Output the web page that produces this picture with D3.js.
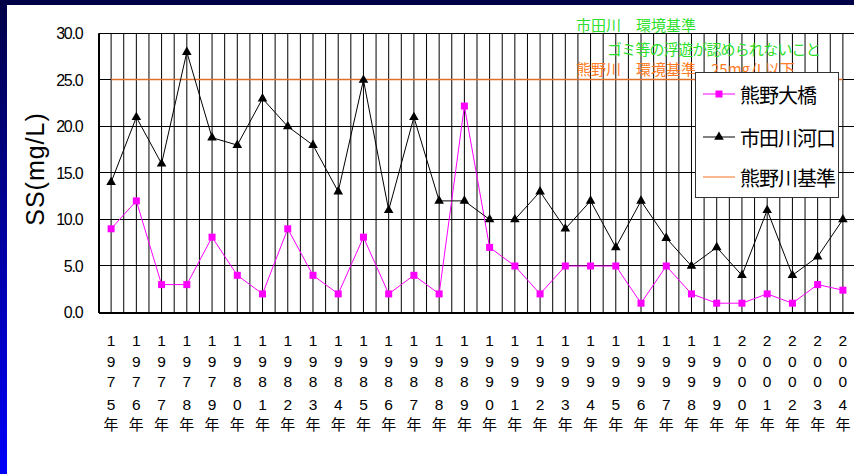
<!DOCTYPE html>
<html>
<head>
<meta charset="utf-8">
<script src="https://cdn.jsdelivr.net/npm/d3@7"></script>
<style>
  html, body { margin: 0; padding: 0; background: #fff; }
  svg { display: block; }
</style>
</head>
<body>
<svg id="chart" width="854" height="474"></svg>
<script>
// Survey years (categories)
const years = ["1975","1976","1977","1978","1979","1980","1981","1982","1983","1984",
               "1985","1986","1987","1988","1989","1990","1991","1992","1993","1994",
               "1995","1996","1997","1998","1999","2000","2001","2002","2003","2004"];

// SS (mg/L) at 熊野大橋
const kumanoOhashi = [9, 12, 3, 3, 8.1, 4, 2, 9, 4, 2,
                      8.1, 2, 4, 2, 22.2, 7, 5, 2, 5, 5,
                      5, 1, 5, 2, 1, 1, 2, 1, 3, 2.4];

// SS (mg/L) at 市田川河口
const ichidaKakou = [14, 21, 16, 28, 18.8, 18, 23, 20, 18, 13,
                     25, 11, 21, 12, 12, 10, 10, 13, 9, 12,
                     7, 12, 8, 5, 7, 4, 11, 4, 6, 10];

// 熊野川 environmental standard (mg/L)
const kumanoStandard = [25, 25, 25, 25, 25, 25, 25, 25, 25, 25,
                        25, 25, 25, 25, 25, 25, 25, 25, 25, 25,
                        25, 25, 25, 25, 25, 25, 25, 25, 25, 25];

// 市田川河口 is drawn as two separate runs
const ichidaSegments = [["1975", "1990"], ["1991", "2004"]];

const yTicks = [0, 5, 10, 15, 20, 25, 30];
const seriesNames = ["熊野大橋", "市田川河口", "熊野川基準"];
const notes = ["市田川　環境基準", "ゴミ等の浮遊が認められないこと", "熊野川　環境基準　25mg/L以下"];
const yTitle = "SS(mg/L)";

const W = 854, H = 474;
const plot = { left: 98.5, right: 855.5, top: 33.5, bottom: 312.5 };
const latin = "'Liberation Sans', Arial, sans-serif";
const cjk = "'Noto Sans CJK JP', 'Noto Sans CJK SC', sans-serif";

const svg = d3.select("#chart");

// slide backdrop: blue gradient frame with a white panel
const defs = svg.append("defs");
const grad = defs.append("linearGradient").attr("id", "frame")
  .attr("x1", 0).attr("y1", 0).attr("x2", 0).attr("y2", 1);
grad.append("stop").attr("offset", "0%").attr("stop-color", "#000046");
grad.append("stop").attr("offset", "100%").attr("stop-color", "#0000fa");
svg.append("rect").attr("width", W).attr("height", H).attr("fill", "url(#frame)");
svg.append("rect").attr("x", 7).attr("y", 5).attr("width", W - 7).attr("height", H - 5).attr("fill", "#fff");

const x = d3.scaleBand().domain(years).range([plot.left, plot.right]).padding(0);
const bw = x.bandwidth();
const cx = d => x(d) + bw / 2;
const y = d3.scaleLinear().domain([0, 30]).range([plot.bottom, plot.top]);
const snap = v => Math.round(v) - 0.5;

const g = svg.append("g");

// vertical grid: category boundaries and centres
const vlines = [];
years.forEach(yr => { vlines.push(x(yr)); vlines.push(cx(yr)); });
g.append("g").selectAll("line").data(vlines).join("line")
  .attr("x1", d => d).attr("x2", d => d)
  .attr("y1", plot.top).attr("y2", plot.bottom)
  .attr("stroke", "#000").attr("stroke-width", 1);

// horizontal grid
g.append("g").selectAll("line").data(yTicks.filter(t => t > 0 && t < 30)).join("line")
  .attr("x1", plot.left).attr("x2", plot.right)
  .attr("y1", d => snap(y(d))).attr("y2", d => snap(y(d)))
  .attr("stroke", "#000").attr("stroke-width", 1);

// top border
g.append("line").attr("x1", plot.left).attr("x2", plot.right)
  .attr("y1", plot.top).attr("y2", plot.top).attr("stroke", "#000");

// y axis
const yAxis = g.append("g").attr("transform", `translate(${plot.left},0)`)
  .call(d3.axisLeft(y).tickValues(yTicks).tickSize(0).tickPadding(16).tickFormat(d3.format(".1f")));
yAxis.select(".domain").attr("stroke", "#000").attr("stroke-width", 2);
yAxis.selectAll("text")
  .attr("font-family", latin).attr("font-size", 16).attr("letter-spacing", "-1.2px")
  .attr("fill", "#000");

// x axis line
const xAxis = g.append("g").attr("transform", `translate(0,${plot.bottom})`)
  .call(d3.axisBottom(x).tickSize(0).tickFormat(""));
xAxis.select(".domain").attr("stroke", "#000").attr("stroke-width", 2);

// year labels, one character per row
const rowY = [340.5, 361, 381, 404];
const labels = g.append("g").selectAll("g").data(years).join("g")
  .attr("transform", d => `translate(${cx(d)},0)`);
labels.each(function (d) {
  const sel = d3.select(this);
  d.split("").forEach((ch, i) => {
    sel.append("text").attr("y", rowY[i]).attr("text-anchor", "middle")
      .attr("dominant-baseline", "central")
      .attr("font-family", latin).attr("font-size", 15.5).attr("fill", "#000").text(ch);
  });
  sel.append("text").attr("y", 423).attr("text-anchor", "middle")
    .attr("dominant-baseline", "central")
    .attr("font-family", cjk).attr("font-size", 15).attr("fill", "#000").text("年");
});

// y title
svg.append("text")
  .attr("transform", "translate(43.5,169) rotate(-90)")
  .attr("text-anchor", "middle")
  .attr("font-family", latin).attr("font-size", 25).attr("letter-spacing", "1px")
  .attr("fill", "#000").text(yTitle);

// standard line
const line = d3.line().x(d => cx(d[0])).y(d => d[1]);
const stdColor = "#e0702a";
g.append("path")
  .attr("d", line(years.map((yr, i) => [yr, snap(y(kumanoStandard[i]))])))
  .attr("fill", "none").attr("stroke", stdColor).attr("stroke-width", 1.3);

// 熊野大橋
const magenta = "#ff00ff";
g.append("path")
  .attr("d", line(years.map((yr, i) => [yr, y(kumanoOhashi[i])])))
  .attr("fill", "none").attr("stroke", magenta).attr("stroke-width", 1);
g.append("g").selectAll("rect").data(years).join("rect")
  .attr("x", d => cx(d) - 3.5)
  .attr("y", (d, i) => y(kumanoOhashi[i]) - 3.5)
  .attr("width", 7).attr("height", 7).attr("fill", magenta);

// 市田川河口
ichidaSegments.forEach(([a, b]) => {
  const i0 = years.indexOf(a), i1 = years.indexOf(b);
  const pts = years.slice(i0, i1 + 1).map((yr, k) => [yr, y(ichidaKakou[i0 + k])]);
  g.append("path").attr("d", line(pts))
    .attr("fill", "none").attr("stroke", "#000").attr("stroke-width", 1);
});
const tri = d3.symbol().type(d3.symbolTriangle).size(40);
g.append("g").selectAll("path").data(years).join("path")
  .attr("transform", (d, i) => `translate(${cx(d)},${y(ichidaKakou[i])})`)
  .attr("d", tri).attr("fill", "#000");

// notes
const noteSpec = [
  { x: 576, y: 24, color: "#2ee02e", ls: 0 },
  { x: 607, y: 48, color: "#2ee02e", ls: -0.8 },
  { x: 576, y: 68, color: "#ff7a22", ls: 0 }
];
svg.append("g").selectAll("text").data(notes).join("text")
  .attr("x", (d, i) => noteSpec[i].x).attr("y", (d, i) => noteSpec[i].y)
  .attr("dominant-baseline", "central")
  .attr("font-family", cjk).attr("font-size", 15)
  .attr("letter-spacing", (d, i) => noteSpec[i].ls + "px")
  .attr("fill", (d, i) => noteSpec[i].color).text(d => d);

// legend
const lg = svg.append("g");
lg.append("rect").attr("x", 695.5).attr("y", 72.5).attr("width", 143).attr("height", 125)
  .attr("fill", "#fff").attr("stroke", "#333").attr("stroke-width", 1);
const rowsY = [94, 137, 177];
const legendStyle = [
  { stroke: magenta, marker: "square" },
  { stroke: "#000", marker: "triangle" },
  { stroke: "#f7a06a", marker: null }
];
seriesNames.forEach((name, i) => {
  const ry = rowsY[i];
  lg.append("line").attr("x1", 703).attr("x2", 735).attr("y1", ry).attr("y2", ry)
    .attr("stroke", legendStyle[i].stroke).attr("stroke-width", i === 2 ? 1.5 : 1);
  if (legendStyle[i].marker === "square") {
    lg.append("rect").attr("x", 715.5).attr("y", ry - 3.5).attr("width", 7).attr("height", 7).attr("fill", magenta);
  } else if (legendStyle[i].marker === "triangle") {
    lg.append("path").attr("transform", `translate(719,${ry})`).attr("d", tri).attr("fill", "#000");
  }
  lg.append("text").attr("x", 740).attr("y", ry)
    .attr("dominant-baseline", "central")
    .attr("font-family", cjk).attr("font-size", 20).attr("letter-spacing", "-1px")
    .attr("fill", "#000").text(name);
});
</script>
</body>
</html>
